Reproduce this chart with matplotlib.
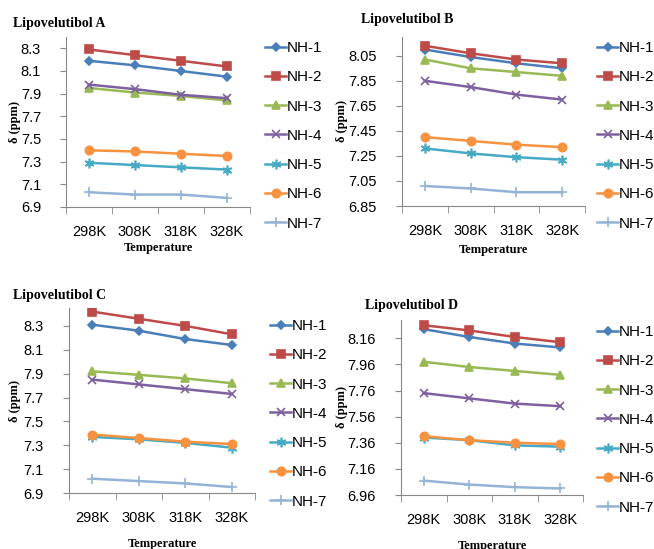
import matplotlib
matplotlib.use("Agg")
import matplotlib.pyplot as plt

# temperaturas y series
temps = ["298K", "308K", "318K", "328K"]
names = ["NH-1", "NH-2", "NH-3", "NH-4", "NH-5", "NH-6", "NH-7"]

lipo_a = [
    [8.19, 8.15, 8.10, 8.05],
    [8.29, 8.24, 8.19, 8.14],
    [7.95, 7.91, 7.88, 7.84],
    [7.98, 7.94, 7.89, 7.86],
    [7.29, 7.27, 7.25, 7.23],
    [7.40, 7.39, 7.37, 7.35],
    [7.03, 7.01, 7.01, 6.98],
]
lipo_b = [
    [8.10, 8.04, 7.99, 7.95],
    [8.13, 8.07, 8.02, 7.99],
    [8.02, 7.95, 7.92, 7.89],
    [7.85, 7.80, 7.74, 7.70],
    [7.31, 7.27, 7.24, 7.22],
    [7.40, 7.37, 7.34, 7.32],
    [7.01, 6.99, 6.96, 6.96],
]
lipo_c = [
    [8.31, 8.26, 8.19, 8.14],
    [8.42, 8.36, 8.30, 8.23],
    [7.92, 7.89, 7.86, 7.82],
    [7.85, 7.81, 7.77, 7.73],
    [7.37, 7.35, 7.32, 7.28],
    [7.39, 7.36, 7.33, 7.31],
    [7.02, 7.00, 6.98, 6.95],
]
lipo_d = [
    [8.23, 8.17, 8.12, 8.09],
    [8.26, 8.22, 8.17, 8.13],
    [7.98, 7.94, 7.91, 7.88],
    [7.74, 7.70, 7.66, 7.64],
    [7.40, 7.38, 7.34, 7.33],
    [7.41, 7.38, 7.36, 7.35],
    [7.07, 7.04, 7.02, 7.01],
]

colors = ["#4A7EBB", "#BE4B48", "#98B954", "#7D60A0", "#46AAC5", "#F69240", "#95B3D7"]
markers = ["D", "s", "^", "x", (6, 2, 0), "o", "+"]
msizes = [4.5, 6, 6, 6, 7, 6, 7]

W, H = 654, 549
fig = plt.figure(figsize=(W / 100, H / 100), dpi=100)

# (titulo, datos, caja en pixeles l,r,t,b, ylim, ticks, formato, pos titulo, pos leyenda, y del xlabel, x del ylabel)
panels = [
    ("Lipovelutibol A", lipo_a, (66, 250, 37, 207), (6.9, 8.4), [6.9 + 0.2 * i for i in range(8)], "%.1f",
     (13, 24), (265, 41), 248, 21),
    ("Lipovelutibol B", lipo_b, (402, 585, 37, 206), (6.85, 8.2), [6.85 + 0.2 * i for i in range(7)], "%.2f",
     (361, 20), (597, 41), 250, 348),
    ("Lipovelutibol C", lipo_c, (69, 255, 308, 493), (6.9, 8.45), [6.9 + 0.2 * i for i in range(8)], "%.1f",
     (13, 295), (270, 319), 544, 21),
    ("Lipovelutibol D", lipo_d, (401, 583, 320, 495), (6.96, 8.3), [6.96 + 0.2 * i for i in range(7)], "%.2f",
     (365, 306), (597, 325), 546, 348),
]

for title, data, (l, r, t, b), ylim, yticks, fmt, tpos, lpos, xlab_y, ylab_x in panels:
    ax = fig.add_axes([l / W, 1 - b / H, (r - l) / W, (b - t) / H])
    x = list(range(len(temps)))
    for i, serie in enumerate(data):
        ax.plot(x, serie, color=colors[i], marker=markers[i], markersize=msizes[i],
                linewidth=1.8, label=names[i], markeredgewidth=1.2)
    ax.set_xlim(-0.5, 3.5)
    ax.set_ylim(*ylim)
    ax.set_yticks(yticks)
    ax.set_yticklabels([fmt % v for v in yticks], fontsize=10.5, family="Liberation Sans")
    ax.set_xticks(x)
    ax.set_xticklabels(temps, fontsize=10.5, family="Liberation Sans")
    ax.tick_params(axis="x", length=0, pad=13)
    ax.set_xticks([-0.5, 0.5, 1.5, 2.5, 3.5], minor=True)
    ax.tick_params(axis="x", which="minor", length=5, color="#888888", direction="out")
    ax.tick_params(axis="y", length=4, color="#888888", pad=14)
    for s in ["top", "right"]:
        ax.spines[s].set_visible(False)
    for s in ["left", "bottom"]:
        ax.spines[s].set_color("#888888")
    ax.set_ylabel("δ (ppm)", fontsize=9, fontweight="bold", family="Liberation Serif")
    ax.yaxis.set_label_coords((ylab_x - l) / (r - l), 0.5)
    fig.text(tpos[0] / W, 1 - tpos[1] / H, title, fontsize=10, fontweight="bold",
             family="Liberation Serif", va="center", ha="left")
    fig.text((l + r) / 2 / W, 1 - xlab_y / H, "Temperature", fontsize=9, fontweight="bold",
             family="Liberation Serif", va="center", ha="center")
    ax.legend(loc="upper left", bbox_to_anchor=(lpos[0] / W, 1 - lpos[1] / H),
              bbox_transform=fig.transFigure, frameon=False, borderaxespad=0,
              labelspacing=1.0, handlelength=1.4, handletextpad=0.05, borderpad=0,
              prop={"family": "Liberation Sans", "size": 11})

fig.savefig("out.png", dpi=100)
